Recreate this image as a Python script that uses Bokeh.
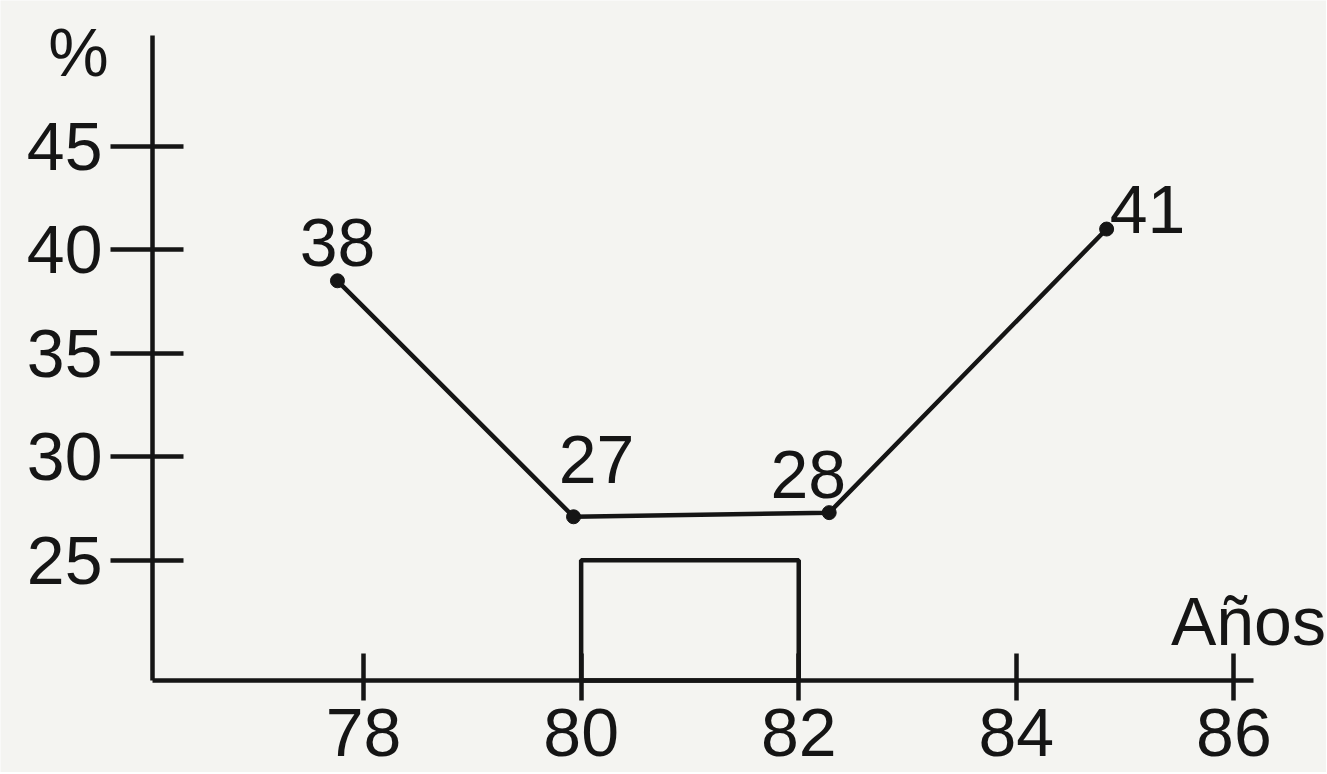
from bokeh.plotting import figure
from bokeh.models import Range1d, FixedTicker, Label, LabelSet, ColumnDataSource
from bokeh.embed import file_html
from bokeh.resources import INLINE
from bokeh.core.properties import value

# ---- data ----
years = [77.76, 79.93, 82.28, 84.83]          # point positions on the Años axis
plotted = [38.5, 27.1, 27.3, 41.0]            # plotted heights (%)
point_labels = ["38", "27", "28", "41"]       # printed values
x_ticks = [78, 80, 82, 84, 86]
y_ticks = [25, 30, 35, 40, 45]
box_years = [80, 82]                          # rectangle span
box_top = 25

# axis extents (data units)
AX_X0, AX_X1 = 76.06, 86.18
AX_Y0, AX_Y1 = 19.19, 50.35

# ---- layout (pixels) ----
W, H = 1326, 772
PX_X0, PX_X1 = 152, 1253     # where the axis extents sit on the page
PX_Y1, PX_Y0 = 35, 680
sx = (PX_X1 - PX_X0) / (AX_X1 - AX_X0)
sy = (PX_Y0 - PX_Y1) / (AX_Y1 - AX_Y0)
x_range = Range1d(AX_X0 - PX_X0 / sx, AX_X1 + (W - PX_X1) / sx)
y_range = Range1d(AX_Y0 - (H - PX_Y0) / sy, AX_Y1 + PX_Y1 / sy)

INK = "#151515"
BG = "#f4f4f1"
FONT = "Liberation Sans"
FS = "68px"
LW = 4.5

p = figure(width=W, height=H, output_backend="svg", toolbar_location=None,
           x_range=x_range, y_range=y_range,
           min_border=0, min_border_left=0, min_border_right=0,
           min_border_top=0, min_border_bottom=0)
p.background_fill_color = BG
p.border_fill_color = BG
p.outline_line_color = None
p.grid.visible = False

for ax in (p.xaxis[0], p.yaxis[0]):
    ax.axis_line_width = LW
    ax.axis_line_color = INK
    ax.major_tick_line_width = LW
    ax.major_tick_line_color = INK
    ax.minor_tick_line_color = None
    ax.major_label_text_font = FONT
    ax.major_label_text_font_size = FS
    ax.major_label_text_color = INK

p.xaxis.fixed_location = AX_Y0
p.xaxis.bounds = (AX_X0, AX_X1)
p.yaxis.fixed_location = AX_X0
p.yaxis.bounds = (AX_Y0, AX_Y1)

p.xaxis.ticker = FixedTicker(ticks=x_ticks)
p.yaxis.ticker = FixedTicker(ticks=y_ticks)
p.xaxis.major_tick_in = 27
p.xaxis.major_tick_out = 20
p.xaxis.major_label_standoff = 8
p.yaxis.major_tick_in = 31
p.yaxis.major_tick_out = 42
p.yaxis.major_label_standoff = 8

# rectangle
p.quad(left=[box_years[0]], right=[box_years[1]], bottom=[AX_Y0], top=[box_top],
       fill_color=None, line_color=INK, line_width=LW)

# line + points
p.line(years, plotted, line_color=INK, line_width=LW)
p.scatter(years, plotted, size=14, color=INK)

# point labels
src = ColumnDataSource(dict(x=years, y=plotted, t=point_labels,
                            dx=[0, 23, -21, 41], dy=[15, 34, 15, -4]))
p.add_layout(LabelSet(x="x", y="y", text="t", source=src, x_offset="dx", y_offset="dy",
                      text_align="center", text_baseline="alphabetic",
                      text_font=value(FONT), text_font_size=FS, text_color=INK))

# axis titles
p.add_layout(Label(x=AX_X0, y=AX_Y1, text="%", x_offset=-74, y_offset=-16,
                   text_align="center", text_baseline="alphabetic",
                   text_font=FONT, text_font_size=FS, text_color=INK))
p.add_layout(Label(x=86, y=AX_Y0, text="Años", x_offset=-63, y_offset=60,
                   text_align="left", text_baseline="alphabetic",
                   text_font=FONT, text_font_size=FS, text_color=INK))

open("out.html", "w").write(file_html(p, INLINE))
